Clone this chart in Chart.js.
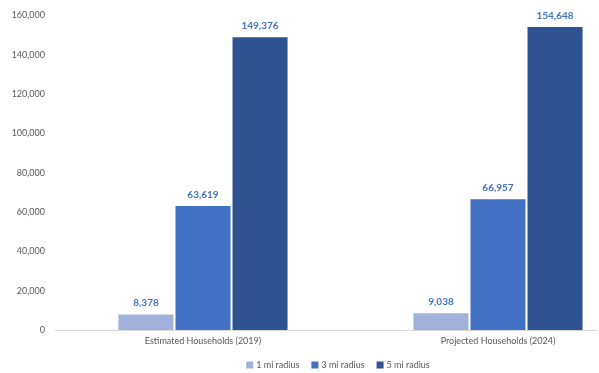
<!DOCTYPE html>
<html>
<head>
<meta charset="utf-8">
<script src="https://cdn.jsdelivr.net/npm/chart.js@4/dist/chart.umd.min.js"></script>
<style>
  html, body { margin: 0; padding: 0; background: #ffffff; }
  #wrap { width: 599px; height: 373px; }
</style>
</head>
<body>
<div id="wrap"><canvas id="chart"></canvas></div>
<script>
// Household counts by distance ring
const categories = ['Estimated Households (2019)', 'Projected Households (2024)'];
const seriesNames = ['1 mi radius', '3 mi radius', '5 mi radius'];
const oneMile = [8378, 9038];
const threeMile = [63619, 66957];
const fiveMile = [149376, 154648];
const yTicks = [0, 20000, 40000, 60000, 80000, 100000, 120000, 140000, 160000];

const seriesValues = [oneMile, threeMile, fiveMile];
const seriesColors = ['#A2B0DC', '#4472C4', '#2F5291'];
const fmt = v => v.toLocaleString('en-US');
const FONT = 'Lato, sans-serif';

// Value labels above each bar
const valueLabels = {
  id: 'valueLabels',
  afterDatasetsDraw(chart) {
    const ctx = chart.ctx;
    ctx.save();
    ctx.font = 'bold 10px ' + FONT;
    ctx.fillStyle = '#4472C4';
    ctx.textAlign = 'center';
    ctx.textBaseline = 'middle';
    chart.data.datasets.forEach((ds, i) => {
      chart.getDatasetMeta(i).data.forEach((bar, j) => {
        ctx.fillText(fmt(seriesValues[i][j]), bar.x, bar.y - 10.5);
      });
    });
    ctx.restore();
  }
};

// Legend row under the axis, centred on the plot
const bottomLegend = {
  id: 'bottomLegend',
  afterDraw(chart) {
    const ctx = chart.ctx;
    const area = chart.chartArea;
    const box = 7, gap = 3, itemGap = 12;
    ctx.save();
    ctx.font = '9px ' + FONT;
    ctx.textBaseline = 'middle';
    const widths = chart.data.datasets.map(ds => box + gap + ctx.measureText(ds.label).width);
    const total = widths.reduce((a, b) => a + b, 0) + itemGap * (widths.length - 1);
    let x = (area.left + area.right) / 2 + 12 - total / 2;
    const y = 365;
    chart.data.datasets.forEach((ds, i) => {
      ctx.fillStyle = ds.backgroundColor;
      ctx.fillRect(x, y - box / 2, box, box);
      ctx.fillStyle = '#595959';
      ctx.textAlign = 'left';
      ctx.fillText(ds.label, x + box + gap, y);
      x += widths[i] + itemGap;
    });
    ctx.restore();
  }
};

new Chart(document.getElementById('chart'), {
  type: 'bar',
  data: {
    datasets: seriesNames.map((name, i) => ({
      label: name,
      data: seriesValues[i].map((v, j) => ({ x: j, y: v })),
      backgroundColor: seriesColors[i],
      borderColor: 'rgba(255,255,255,0.25)',
      borderWidth: 1,
      categoryPercentage: 0.58,
      barPercentage: 1.0
    }))
  },
  options: {
    responsive: true,
    maintainAspectRatio: false,
    animation: false,
    layout: { padding: { top: 9, right: 2, left: 0, bottom: 26 } },
    plugins: {
      tooltip: { enabled: false },
      legend: { display: false }
    },
    scales: {
      x: {
        type: 'linear',
        min: -0.5017,
        max: 1.3356,
        offset: false,
        grid: { display: false, drawTicks: false },
        border: { display: true, color: '#D9D9D9', width: 1 },
        afterBuildTicks: s => { s.ticks = categories.map((c, i) => ({ value: i })); },
        afterFit: s => { s.height = 17; },
        ticks: {
          color: '#595959',
          padding: 6,
          maxRotation: 0,
          autoSkip: false,
          font: { family: FONT, size: 9 },
          callback: v => categories[v]
        }
      },
      y: {
        min: 0,
        max: 160000,
        grid: { display: false, drawTicks: false },
        border: { display: false },
        afterBuildTicks: s => { s.ticks = yTicks.map(v => ({ value: v })); },
        afterFit: s => { s.width = 55; },
        ticks: {
          color: '#595959',
          padding: 10,
          font: { family: FONT, size: 9 },
          callback: v => fmt(v)
        }
      }
    }
  },
  plugins: [valueLabels, bottomLegend]
});
</script>
</body>
</html>
